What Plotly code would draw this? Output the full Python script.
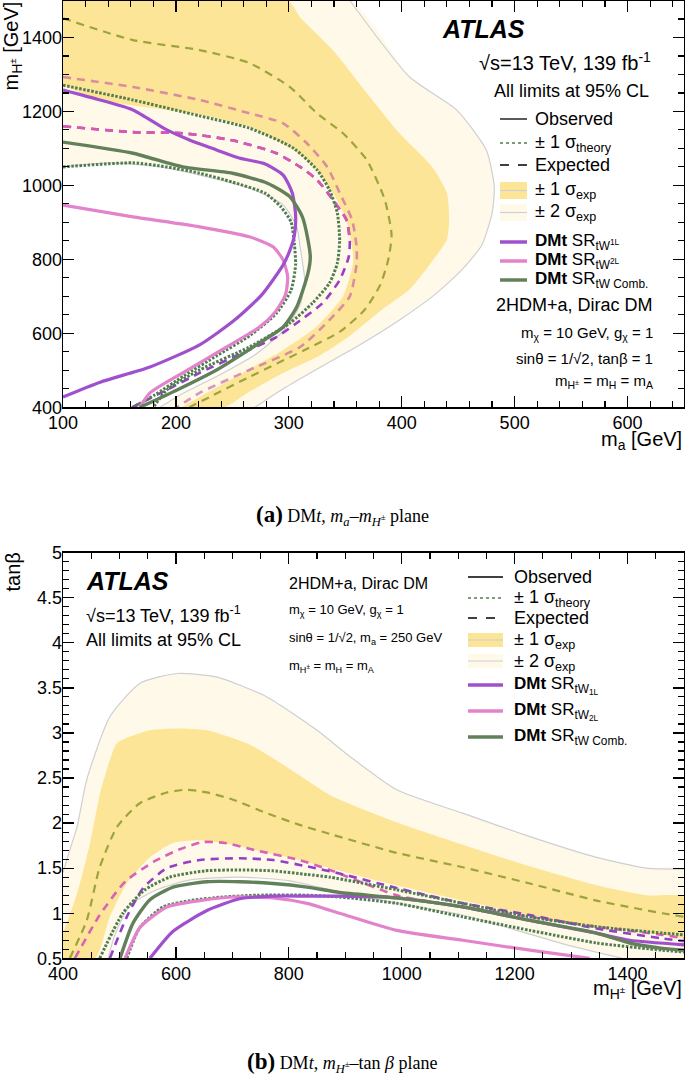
import plotly.graph_objects as go

W, H = 685, 1080

# ---------------- Panel (a): m_a vs m_H+- ----------------
A_XRANGE = [100, 650]
A_YRANGE = [400, 1500]

a_band2_out_x = [354, 407, 449, 475, 482, 480, 471, 453, 429, 398, 363, 327, 296, 270]
a_band2_out_y = [1500, 1293, 1203, 1095, 995, 925, 839, 771, 704, 636, 569, 507, 452, 400]
a_band2_in_x = [100, 142, 186, 221, 265, 295, 307, 310, 312, 314, 310, 296, 270, 239, 204, 186]
a_band2_in_y = [1050, 1061, 1050, 1028, 993, 947, 888, 834, 793, 744, 677, 609, 542, 488, 434, 400]
a_band1_out_x = [299, 310, 339, 369, 398, 427, 440, 442, 440, 427, 407, 383, 354, 325, 295, 265, 243]
a_band1_out_y = [1500, 1455, 1366, 1250, 1141, 1050, 980, 908, 854, 795, 719, 665, 593, 536, 493, 442, 400]
a_band1_in_x = [100, 133, 192, 221, 265, 304, 325, 339, 351, 356, 357, 348, 325, 295, 259, 221, 206]
a_band1_in_y = [1271, 1231, 1204, 1191, 1158, 1096, 1042, 980, 908, 835, 792, 700, 619, 555, 493, 428, 400]

a_exp_comb_x = [100, 162, 221, 265, 301, 325, 348, 369, 385, 391, 388, 381, 367, 345, 314, 265, 230, 212]
a_exp_comb_y = [1452, 1393, 1366, 1331, 1266, 1195, 1141, 1069, 961, 866, 798, 731, 663, 604, 555, 482, 428, 400]
a_exp_2l_x = [100, 162, 221, 265, 295, 316, 334, 345, 356, 360, 360, 354, 336, 310, 265, 221, 201]
a_exp_2l_y = [1293, 1266, 1231, 1195, 1168, 1114, 1050, 980, 907, 835, 787, 700, 636, 563, 501, 439, 400]
a_exp_1l_x = [100, 162, 206, 250, 289, 310, 325, 339, 351, 354, 353, 345, 330, 307, 289, 259, 221, 192, 161]
a_exp_1l_y = [1160, 1144, 1141, 1122, 1087, 1050, 1015, 961, 907, 852, 806, 744, 682, 628, 590, 547, 493, 447, 400]

a_obs_comb_x = [100, 162, 206, 250, 281, 301, 312, 317, 319, 317, 307, 295, 274, 236, 201, 168]
a_obs_comb_y = [1117, 1087, 1050, 1033, 1006, 969, 915, 852, 806, 763, 671, 617, 574, 501, 447, 400]
a_th_up_x = [100, 162, 221, 265, 304, 325, 336, 343, 345, 343, 336, 321, 301, 265, 221, 192, 180]
a_th_up_y = [1271, 1231, 1188, 1155, 1101, 1042, 988, 925, 852, 790, 736, 682, 628, 563, 501, 447, 400]
a_th_dn_x = [100, 162, 192, 221, 250, 279, 293, 302, 305, 306, 302, 289, 266, 237, 207, 181, 162]
a_th_dn_y = [1050, 1061, 1050, 1033, 1009, 979, 942, 901, 839, 785, 717, 654, 595, 541, 485, 433, 400]
a_obs_1l_x = [100, 133, 162, 192, 212, 236, 256, 279, 295, 303, 306, 305, 301, 295, 276, 252, 221, 177, 133, 100]
a_obs_1l_y = [1258, 1231, 1204, 1150, 1123, 1096, 1074, 1058, 1028, 980, 920, 866, 825, 785, 704, 636, 569, 509, 468, 428]
a_obs_2l_x = [100, 162, 221, 265, 286, 295, 299, 297, 288, 274, 236, 206, 177, 168]
a_obs_2l_y = [947, 915, 888, 861, 834, 798, 752, 704, 658, 617, 547, 493, 439, 400]

# ---------------- Panel (b): m_H+- vs tan(beta) ----------------
B_XRANGE = [400, 1500]
B_YRANGE = [0.5, 5]

b_band2_out_x = [400, 412, 425, 442, 483, 536, 602, 673, 761, 850, 908, 991, 1108, 1227, 1345, 1434, 1500]
b_band2_out_y = [1.45, 1.70, 1.96, 2.48, 3.18, 3.55, 3.66, 3.62, 3.40, 3.03, 2.74, 2.37, 2.11, 1.85, 1.62, 1.50, 1.49]
b_band2_in_x = [480, 492, 519, 566, 625, 713, 802, 873, 991, 1108, 1204, 1297, 1391]
b_band2_in_y = [0.50, 0.76, 1.09, 1.26, 1.37, 1.40, 1.36, 1.26, 1.11, 0.98, 0.81, 0.64, 0.50]
b_band1_out_x = [400, 425, 448, 466, 483, 496, 554, 602, 655, 731, 819, 873, 991, 1108, 1227, 1345, 1434, 1500]
b_band1_out_y = [0.78, 1.22, 1.78, 2.34, 2.70, 2.89, 3.03, 3.05, 3.03, 2.87, 2.53, 2.31, 2.01, 1.76, 1.52, 1.31, 1.20, 1.18]
b_band1_in_x = [457, 483, 513, 554, 595, 642, 701, 761, 819, 873, 991, 1108, 1227, 1345, 1462, 1500]
b_band1_in_y = [0.50, 0.96, 1.33, 1.62, 1.78, 1.81, 1.76, 1.67, 1.59, 1.50, 1.31, 1.14, 0.98, 0.85, 0.76, 0.73]

b_exp_comb_x = [412, 442, 465, 496, 536, 584, 619, 655, 701, 761, 819, 878, 991, 1108, 1227, 1345, 1462, 1500]
b_exp_comb_y = [0.50, 0.92, 1.51, 1.96, 2.22, 2.34, 2.37, 2.34, 2.26, 2.11, 1.98, 1.87, 1.67, 1.51, 1.33, 1.14, 1.00, 0.96]
b_exp_2l_x = [421, 465, 510, 563, 607, 648, 687, 740, 819, 873, 991, 1108, 1227, 1345, 1462, 1500]
b_exp_2l_y = [0.50, 0.98, 1.35, 1.58, 1.71, 1.79, 1.78, 1.70, 1.59, 1.48, 1.20, 1.07, 0.96, 0.85, 0.76, 0.72]
b_exp_1l_x = [483, 513, 542, 584, 642, 713, 772, 832, 890, 991, 1108, 1227, 1345, 1462, 1500]
b_exp_1l_y = [0.50, 0.96, 1.28, 1.50, 1.59, 1.61, 1.59, 1.52, 1.44, 1.28, 1.11, 0.98, 0.83, 0.72, 0.69]
b_th_up_x = [465, 506, 545, 589, 651, 713, 772, 832, 873, 991, 1108, 1227, 1345, 1462, 1500]
b_th_up_y = [0.50, 1.00, 1.26, 1.40, 1.47, 1.48, 1.47, 1.43, 1.40, 1.26, 1.11, 0.96, 0.85, 0.78, 0.76]
b_obs_comb_x = [501, 524, 554, 595, 655, 713, 772, 832, 890, 991, 1108, 1227, 1345, 1404, 1462, 1500]
b_obs_comb_y = [0.50, 0.89, 1.15, 1.29, 1.35, 1.35, 1.33, 1.29, 1.23, 1.17, 1.07, 0.92, 0.78, 0.67, 0.61, 0.59]
b_th_dn_x = [513, 536, 577, 625, 683, 743, 832, 890, 991, 1108, 1227, 1345, 1462, 1500]
b_th_dn_y = [0.50, 0.84, 1.07, 1.14, 1.18, 1.20, 1.20, 1.18, 1.11, 0.96, 0.81, 0.67, 0.59, 0.57]
b_obs_2l_x = [510, 536, 584, 642, 701, 772, 832, 890, 991, 1108, 1227, 1333]
b_obs_2l_y = [0.50, 0.84, 1.07, 1.14, 1.18, 1.17, 1.11, 1.00, 0.81, 0.70, 0.59, 0.50]
b_obs_1l_x = [554, 595, 655, 713, 772, 832, 890, 991, 1108, 1227, 1345, 1404, 1500]
b_obs_1l_y = [0.50, 0.80, 1.03, 1.16, 1.19, 1.19, 1.19, 1.17, 1.07, 0.92, 0.78, 0.70, 0.65]

# ---------------- styles ----------------
YELLOW = "#fde598"
CREAM = "#fff9ea"
GREY = "#cfcfcf"
PURPLE = "#a050cc"
PINK = "#e283cb"
GREEN = "#62815a"
OLIVE = "#9ca43c"
DOTGREEN = "#4f7d4f"
SANS = "Liberation Sans"
SERIF = "Liberation Serif"

fig = go.Figure()


def poly(x, y, color, xa, ya):
    fig.add_trace(go.Scatter(x=x, y=y, mode="lines", fill="toself", fillcolor=color,
                             line=dict(width=0, color=color, shape="spline", smoothing=0.6),
                             xaxis=xa, yaxis=ya, hoverinfo="skip", showlegend=False))


def curve(x, y, color, width, dash, xa, ya):
    fig.add_trace(go.Scatter(x=x, y=y, mode="lines",
                             line=dict(color=color, width=width, dash=dash, shape="spline", smoothing=0.6),
                             xaxis=xa, yaxis=ya, hoverinfo="skip", showlegend=False))


# ---- panel (a) bands ----
ax0, ax1 = A_XRANGE
ay0, ay1 = A_YRANGE
poly([ax0] + a_band2_out_x + [ax0], [ay1] + a_band2_out_y + [ay0], CREAM, "x", "y")
poly(a_band2_in_x + [ax0], a_band2_in_y + [ay0], "white", "x", "y")
poly([ax0] + a_band1_out_x + a_band1_in_x[::-1],
     [ay1] + a_band1_out_y + a_band1_in_y[::-1], YELLOW, "x", "y")
curve(a_band2_out_x, a_band2_out_y, GREY, 1.2, "solid", "x", "y")
curve(a_band2_in_x, a_band2_in_y, GREY, 1.2, "solid", "x", "y")

# ---- panel (a) lines ----
curve(a_exp_comb_x, a_exp_comb_y, OLIVE, 2.2, "8px,6px", "x", "y")
curve(a_exp_2l_x, a_exp_2l_y, "rgba(200,95,160,0.65)", 2.6, "8px,6px", "x", "y")
curve(a_exp_1l_x, a_exp_1l_y, "#9a3ec8", 2.6, "8px,6px", "x", "y")
curve(a_exp_1l_x[:10], a_exp_1l_y[:10], "#d85aae", 2.6, "8px,6px", "x", "y")
curve(a_th_up_x, a_th_up_y, DOTGREEN, 3, "2.5px,1.6px", "x", "y")
curve(a_th_dn_x, a_th_dn_y, DOTGREEN, 3, "2.5px,1.6px", "x", "y")
curve(a_obs_2l_x, a_obs_2l_y, PINK, 3.2, "solid", "x", "y")
curve(a_obs_1l_x, a_obs_1l_y, PURPLE, 3.2, "solid", "x", "y")
curve(a_obs_comb_x, a_obs_comb_y, GREEN, 3.4, "solid", "x", "y")

# ---- panel (b) bands ----
bx0, bx1 = B_XRANGE
by0, by1 = B_YRANGE
poly(b_band2_out_x + [bx1, bx0], b_band2_out_y + [by0, by0], CREAM, "x2", "y2")
poly(b_band1_out_x + b_band1_in_x[::-1] + [bx0],
     b_band1_out_y + b_band1_in_y[::-1] + [by0], YELLOW, "x2", "y2")
poly(b_band2_in_x, b_band2_in_y, "white", "x2", "y2")
curve(b_band2_out_x, b_band2_out_y, GREY, 1.2, "solid", "x2", "y2")
curve(b_band2_in_x, b_band2_in_y, GREY, 1.2, "solid", "x2", "y2")

# ---- panel (b) lines ----
curve(b_exp_comb_x, b_exp_comb_y, OLIVE, 2.2, "8px,6px", "x2", "y2")
curve(b_exp_2l_x, b_exp_2l_y, "#d862b6", 2.6, "8px,6px", "x2", "y2")
curve(b_exp_1l_x, b_exp_1l_y, "#9440c6", 2.6, "8px,6px", "x2", "y2")
curve(b_th_up_x, b_th_up_y, DOTGREEN, 3, "2.5px,1.6px", "x2", "y2")
curve(b_th_dn_x, b_th_dn_y, DOTGREEN, 3, "2.5px,1.6px", "x2", "y2")
curve(b_obs_2l_x, b_obs_2l_y, PINK, 3.2, "solid", "x2", "y2")
curve(b_obs_1l_x, b_obs_1l_y, PURPLE, 3.2, "solid", "x2", "y2")
curve(b_obs_comb_x, b_obs_comb_y, GREEN, 3.4, "solid", "x2", "y2")


def px(x):
    return x / W


def py(y):
    return 1 - y / H


def axis_common(dom, rng, tickvals, ticktext, minor_dtick, anchor, standoff):
    return dict(domain=dom, range=rng, tickvals=tickvals, ticktext=ticktext,
                ticks="inside", ticklen=11, tickwidth=1.3, tickcolor="black",
                showline=True, linecolor="black", linewidth=1.4, mirror="allticks",
                showgrid=False, zeroline=False, anchor=anchor, ticklabelstandoff=standoff,
                tickfont=dict(family=SANS, size=18, color="black"),
                minor=dict(dtick=minor_dtick, ticks="inside", ticklen=6, tickcolor="black", tickwidth=1.1,
                           showgrid=False))


xdom = [px(63), px(684)]
layout = dict(
    width=W, height=H, paper_bgcolor="white", plot_bgcolor="white",
    margin=dict(l=0, r=0, t=0, b=0, autoexpand=False), showlegend=False,
    xaxis=axis_common(xdom, A_XRANGE, [100, 200, 300, 400, 500, 600],
                      ["100", "200", "300", "400", "500", "600"], 20, "y", -1),
    yaxis=axis_common([py(407.3), py(0.5)], A_YRANGE, [400, 600, 800, 1000, 1200, 1400],
                      ["400", "600", "800", "1000", "1200", "1400"], 50, "x", -4),
    xaxis2=axis_common(xdom, B_XRANGE, [400, 600, 800, 1000, 1200, 1400],
                       ["400", "600", "800", "1000", "1200", "1400"], 50, "y2", -1),
    yaxis2=axis_common([py(958.3), py(552.7)], B_YRANGE,
                       [0.5, 1, 1.5, 2, 2.5, 3, 3.5, 4, 4.5, 5],
                       ["0.5", "1", "1.5", "2", "2.5", "3", "3.5", "4", "4.5", "5"], 0.1, "x2", -4),
)
layout["xaxis"]["minor"]["tick0"] = 100
layout["yaxis2"]["minor"]["tick0"] = 0.5
fig.update_layout(**layout)

ann = []
shapes = []


def text(x, y, s, size, xanchor="left", family=SANS, angle=0, yanchor="middle"):
    ann.append(dict(x=px(x), y=py(y), xref="paper", yref="paper", text=s, showarrow=False,
                    xanchor=xanchor, yanchor=yanchor, textangle=angle,
                    font=dict(family=family, size=size, color="black")))


def seg(x0, x1, y, color, width, dash="solid"):
    shapes.append(dict(type="line", xref="paper", yref="paper", x0=px(x0), x1=px(x1),
                       y0=py(y), y1=py(y), line=dict(color=color, width=width, dash=dash)))


def box(x0, x1, y0, y1, color):
    shapes.append(dict(type="rect", xref="paper", yref="paper", x0=px(x0), x1=px(x1),
                       y0=py(y0), y1=py(y1), fillcolor=color, line=dict(width=0)))
    seg(x0, x1, (y0 + y1) / 2, GREY, 1.2)


# ----- panel (a) texts -----
text(527, 29, "<b><i>ATLAS</i></b>", 25, "right")
text(653, 62, "√s=13 TeV, 139 fb<sup>-1</sup>", 20, "right")
text(651, 91, "All limits at 95% CL", 18, "right")
LX0, LX1, LT = 500, 527, 533
seg(LX0, LX1, 119, "black", 1.3)
text(LT, 119, "Observed", 18)
seg(LX0, LX1, 143, DOTGREEN, 1.5, "dot")
text(LT, 143, "± 1 σ<sub>theory</sub>", 18)
seg(LX0, LX1, 165, "black", 1.3, "dash")
text(LT, 165, "Expected", 18)
box(LX0, LX1, 182, 199, YELLOW)
text(LT, 190, "± 1 σ<sub>exp</sub>", 18)
box(LX0, LX1, 204, 221, CREAM)
text(LT, 213, "± 2 σ<sub>exp</sub>", 18)
seg(LX0, LX1, 242, PURPLE, 3.5)
text(LT, 242, "<b>DMt</b> SR<sub>tW<sup>1L</sup></sub>", 17)
seg(LX0, LX1, 261, PINK, 3.5)
text(LT, 261, "<b>DMt</b> SR<sub>tW<sup>2L</sup></sub>", 17)
seg(LX0, LX1, 280, GREEN, 3.5)
text(LT, 280, "<b>DMt</b> SR<sub>tW Comb.</sub>", 17)
text(655, 305, "2HDM+a, Dirac DM", 18, "right")
text(655, 333, "m<sub>χ</sub> = 10 GeV, g<sub>χ</sub> = 1", 15, "right")
text(655, 358, "sinθ = 1/√2, tanβ = 1", 15, "right")
text(655, 382, "m<sub>H<sup>±</sup></sub> = m<sub>H</sub> = m<sub>A</sub>", 15, "right")

text(684, 440, "m<sub>a</sub> [GeV]", 20, "right")
text(12, 0, "m<sub>H<sup>±</sup></sub> [GeV]", 20, "center", angle=-90, yanchor="top")
text(342, 515, "<span style='font-size:23px'><b>(a)</b></span> DM<i>t</i>, <i>m<sub>a</sub></i>–<i>m<sub>H<sup>±</sup></sub></i> plane",
     18, "center", family=SERIF)

# ----- panel (b) texts -----
text(84, 581, "<b><i>ATLAS</i></b>", 25, "left")
text(84, 614, "√s=13 TeV, 139 fb<sup>-1</sup>", 18, "left")
text(84, 640, "All limits at 95% CL", 18, "left")
text(287, 583, "2HDM+a, Dirac DM", 16, "left")
text(287, 610, "m<sub>χ</sub> = 10 GeV, g<sub>χ</sub> = 1", 13, "left")
text(287, 638, "sinθ = 1/√2, m<sub>a</sub> = 250 GeV", 13, "left")
text(287, 666, "m<sub>H<sup>±</sup></sub> = m<sub>H</sub> = m<sub>A</sub>", 13, "left")
MX0, MX1, MT = 468, 503, 512
seg(MX0, MX1, 577, "black", 1.3)
text(MT, 577, "Observed", 18)
seg(MX0, MX1, 598, DOTGREEN, 1.5, "dot")
text(MT, 598, "± 1 σ<sub>theory</sub>", 18)
seg(MX0, MX1, 618, "black", 1.3, "dash")
text(MT, 618, "Expected", 18)
box(MX0, MX1, 633, 647, YELLOW)
text(MT, 640, "± 1 σ<sub>exp</sub>", 18)
box(MX0, MX1, 654, 668, CREAM)
text(MT, 662, "± 2 σ<sub>exp</sub>", 18)
seg(MX0, MX1, 685, PURPLE, 3.5)
text(MT, 685, "<b>DMt</b> SR<sub>tW<sub>1L</sub></sub>", 17)
seg(MX0, MX1, 711, PINK, 3.5)
text(MT, 711, "<b>DMt</b> SR<sub>tW<sub>2L</sub></sub>", 17)
seg(MX0, MX1, 737, GREEN, 3.5)
text(MT, 737, "<b>DMt</b> SR<sub>tW Comb.</sub>", 17)

text(684, 989, "m<sub>H<sup>±</sup></sub> [GeV]", 20, "right")
text(12, 551, "tanβ", 20, "center", angle=-90, yanchor="top")
text(342, 1062, "<span style='font-size:23px'><b>(b)</b></span> DM<i>t</i>, <i>m<sub>H<sup>±</sup></sub></i>–tan <i>β</i> plane",
     18, "center", family=SERIF)

fig.update_layout(annotations=ann, shapes=shapes)
fig.write_html("out.html", config={"displayModeBar": False, "staticPlot": True},
               post_script="document.body.style.margin='0px';document.body.style.overflow='hidden';")
